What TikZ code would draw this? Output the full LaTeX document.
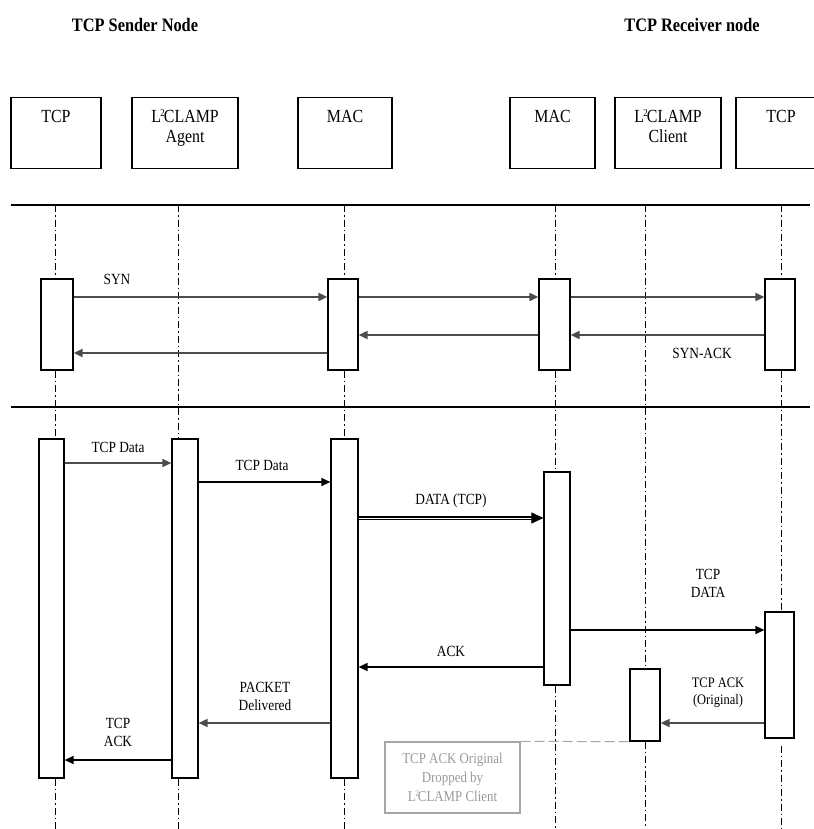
\documentclass[tikz,border=0pt]{standalone}
\usepackage{fontspec}
\setmainfont[FakeStretch=0.86]{Liberation Serif}
\usetikzlibrary{arrows.meta}
\newcommand{\ltwo}{L\kern-0.5pt\textsuperscript{\scalebox{0.8}{2}}\kern-1.5pt CLAMP}
\begin{document}
\begin{tikzpicture}[x=1pt,y=-1pt,
  hdr/.style={draw,line width=1.2pt,anchor=north,align=center,inner ysep=5pt,
    text height=20pt,text depth=41pt,font=\fontsize{18.5}{20}\selectfont},
  hdrtwo/.style={hdr,text height=40pt,text depth=21pt},
  title/.style={font=\fontsize{19}{20}\selectfont\bfseries},
  bar/.style={draw,fill=white,line width=1.2pt,inner sep=0pt},
  life/.style={line width=1pt,dash pattern=on 7pt off 3pt on 1.5pt off 3pt},
  msg/.style={line width=1.3pt,-{Triangle[length=9pt,width=8pt]}},
  msggray/.style={msg,black!70,line width=1.8pt},
  lbl/.style={font=\fontsize{15.5}{18}\selectfont,align=center}]
  \useasboundingbox (0,0) rectangle (813,829);
  \node[title] (sender) at (135,25) {TCP Sender Node};
  \node[title] (receiver) at (692,25) {TCP Receiver node};
  \node[hdr,minimum width=90] (hTcpA) at (56,97) {TCP};
  \node[hdrtwo,minimum width=106] (hAgent) at (185,97) {\ltwo\\Agent};
  \node[hdr,minimum width=94] (hMacA) at (345,97) {MAC};
  \node[hdr,minimum width=85] (hMacB) at (552.5,97) {MAC};
  \node[hdrtwo,minimum width=106] (hClient) at (668,97) {\ltwo\\Client};
  \node[hdr,minimum width=90] (hTcpB) at (781,97) {TCP};
  \draw[line width=1.2pt] (11,205) -- (810,205);
  \draw[line width=1.2pt] (11,407) -- (810,407);
  \coordinate (lTcpA) at (55,205);
  \coordinate (lAgent) at (178,205);
  \coordinate (lMacA) at (344,205);
  \coordinate (lMacB) at (555,205);
  \coordinate (lClient) at (645,205);
  \coordinate (lTcpB) at (781,205);
  \node[bar,minimum width=32,minimum height=91] (sTcpA) at (57,324.5) {};
  \node[bar,minimum width=30,minimum height=91] (sMacA) at (343,324.5) {};
  \node[bar,minimum width=31,minimum height=91] (sMacB) at (554.5,324.5) {};
  \node[bar,minimum width=30,minimum height=91] (sTcpB) at (780,324.5) {};
  \node[bar,minimum width=25,minimum height=339] (dTcpA) at (51.5,608.5) {};
  \node[bar,minimum width=26,minimum height=339] (dAgent) at (185,608.5) {};
  \node[bar,minimum width=27,minimum height=339] (dMacA) at (344.5,608.5) {};
  \node[bar,minimum width=26,minimum height=213] (dMacB) at (557,578.5) {};
  \node[bar,minimum width=29,minimum height=126] (dTcpB) at (779.5,675) {};
  \node[bar,minimum width=30,minimum height=72] (dClient) at (645,705) {};
  \draw[life] (lTcpA) -- (lTcpA |- sTcpA.north) (lTcpA |- sTcpA.south) -- (lTcpA |- dTcpA.north)
    (lTcpA |- dTcpA.south) -- (lTcpA |- 0,829);
  \draw[life] (lAgent) -- (lAgent |- dAgent.north) (lAgent |- dAgent.south) -- (lAgent |- 0,829);
  \draw[life] (lMacA) -- (lMacA |- sMacA.north) (lMacA |- sMacA.south) -- (lMacA |- dMacA.north)
    (lMacA |- dMacA.south) -- (lMacA |- 0,829);
  \draw[life] (lMacB) -- (lMacB |- sMacB.north) (lMacB |- sMacB.south) -- (lMacB |- dMacB.north)
    (lMacB |- dMacB.south) -- (lMacB |- 0,829);
  \draw[life] (lClient) -- (lClient |- dClient.north) (lClient |- dClient.south) -- (lClient |- 0,829);
  \draw[life] (lTcpB) -- (lTcpB |- sTcpB.north) (lTcpB |- sTcpB.south) -- (lTcpB |- dTcpB.north)
    ([yshift=-7pt]lTcpB |- dTcpB.south) -- (lTcpB |- 0,829);
  \node[lbl] (syn) at (117,279) {SYN};
  \draw[msggray] (sTcpA.east |- 0,297) -- (sMacA.west |- 0,297);
  \draw[msggray] (sMacA.east |- 0,297) -- (sMacB.west |- 0,297);
  \draw[msggray] (sMacB.east |- 0,297) -- (sTcpB.west |- 0,297);
  \draw[msggray] (sTcpB.west |- 0,335) -- (sMacB.east |- 0,335);
  \draw[msggray] (sMacB.west |- 0,335) -- (sMacA.east |- 0,335);
  \draw[msggray] (sMacA.west |- 0,353) -- (sTcpA.east |- 0,353);
  \node[lbl] (synack) at (702,353) {SYN-ACK};
  \node[lbl] (data1) at (118,447) {TCP Data};
  \draw[msggray,line width=1.5pt] (dTcpA.east |- 0,463) -- (dAgent.west |- 0,463);
  \node[lbl] (data2) at (262,465) {TCP Data};
  \draw[msg] (dAgent.east |- 0,482) -- (dMacA.west |- 0,482);
  \node[lbl] (data3) at (451,501) {DATA (TCP)};
  \draw[msg,double=white,double distance=1pt,line width=1.1pt,-{Triangle[length=12pt,width=11pt]}]
    (dMacA.east |- 0,518) -- (dMacB.west |- 0,518);
  \node[lbl] (data4) at (708,583) {TCP\\DATA};
  \draw[msg] (dMacB.east |- 0,630) -- (dTcpB.west |- 0,630);
  \node[lbl] (ack) at (451,651) {ACK};
  \draw[msg] (dMacB.west |- 0,667) -- (dMacA.east |- 0,667);
  \node[lbl,font=\fontsize{14.5}{17}\selectfont] (ackorig) at (718,693) {TCP ACK\\(Original)};
  \draw[msggray,line width=1.5pt] (dTcpB.west |- 0,723) -- (dClient.east |- 0,723);
  \node[lbl] (delivered) at (265,696) {PACKET\\Delivered};
  \draw[msggray,line width=1.5pt] (dMacA.west |- 0,723) -- (dAgent.east |- 0,723);
  \node[lbl] (tcpack) at (118,732) {TCP\\ACK};
  \draw[msg] (dAgent.west |- 0,760) -- (dTcpA.east |- 0,760);
  \node[draw=black!35,line width=1.2pt,text=black!40,minimum width=135,minimum height=71,
    font=\fontsize{15}{19}\selectfont,align=center] (drop) at (452.5,777.5)
    {TCP ACK Original\\Dropped by\\\ltwo{} Client};
  \draw[black!35,line width=1pt,dash pattern=on 10pt off 4pt] (drop.north east) -- (dClient.south west);
\end{tikzpicture}
\end{document}
